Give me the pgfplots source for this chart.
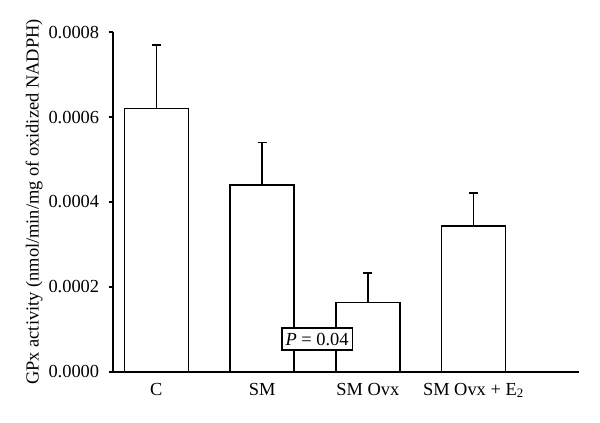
\documentclass[border=0pt]{standalone}
\usepackage{pgfplots}
\pgfplotsset{compat=1.18}
\usepackage{fontspec}
\setmainfont{Liberation Serif}
\begin{document}
\begin{tikzpicture}[font=\fontsize{9.2pt}{11pt}\selectfont]
\begin{axis}[
  scale only axis,
  width=233.2pt, height=169.7pt,
  xmin=-0.41, xmax=4.0,
  ymin=0, ymax=0.0008,
  axis lines=left,
  axis line style={-, line width=0.9pt},
  xtick={0,1,2,3},
  xticklabels={C, SM, SM Ovx, SM Ovx + E\textsubscript{2}},
  x tick label style={yshift=0pt},
  ytick={0,0.0002,0.0004,0.0006,0.0008},
  scaled y ticks=false,
  yticklabel style={xshift=-1.2pt, /pgf/number format/.cd, fixed, fixed zerofill, precision=4, assume math mode=true},
  tick align=outside,
  major tick length=2.2pt,
  x tick style={draw=none},
  y tick style={line width=0.9pt, black},
  ylabel={GPx activity (nmol/min/mg of oxidized NADPH)},
  ylabel style={at={(axis description cs:-0.169,0.5)}, anchor=center},
  ybar, bar width=32pt,
  clip=false,
]
\addplot[draw=black, fill=white, line width=0.8pt,
  error bars/.cd, y dir=plus, y explicit,
  error bar style={line width=0.8pt, black},
  error mark options={rotate=90, line width=0.8pt, mark size=2.3pt, black}]
  coordinates {
  (0,0.00062) +- (0,0.000150)
  (1,0.00044) +- (0,0.000100)
  (2,0.000163) +- (0,0.000070)
  (3,0.000344) +- (0,0.000077)
};
\node[draw=black, fill=white, line width=0.7pt, inner xsep=1.8pt, inner ysep=2.4pt] at (axis cs:1.52,0.000077) {\textit{P} = 0.04};
\end{axis}
\pgfresetboundingbox
\useasboundingbox (-56.5pt,-25.65pt) rectangle (243.5pt,185.85pt);
\end{tikzpicture}
\end{document}
